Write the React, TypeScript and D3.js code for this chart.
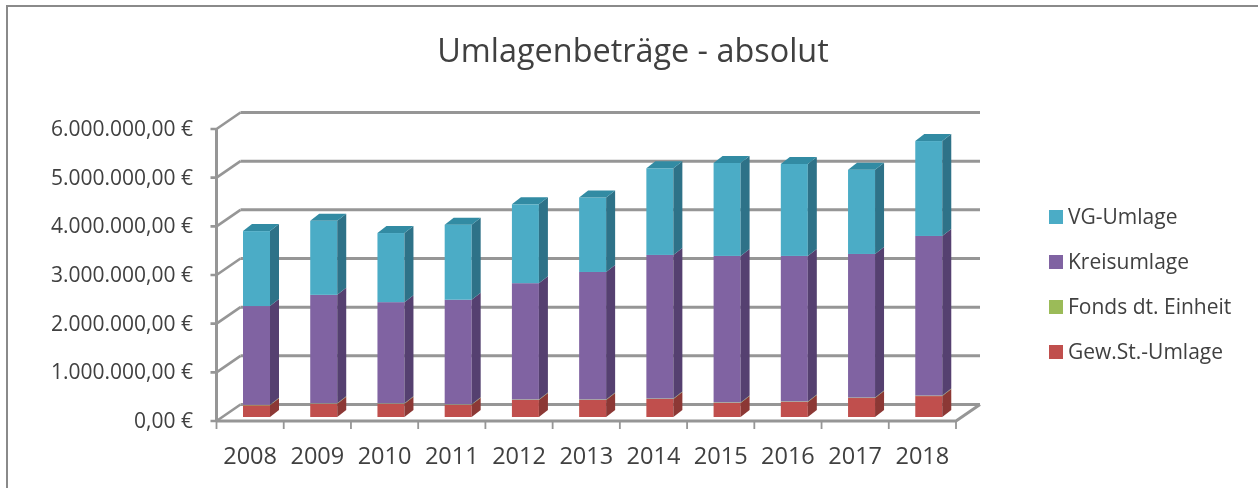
import React from "react";
import * as d3 from "d3";

const years = ["2008","2009","2010","2011","2012","2013","2014","2015","2016","2017","2018"];
const gewSt = [240000,270000,270000,250000,350000,350000,370000,290000,310000,390000,430000];
const fonds = [10000,10000,10000,10000,10000,10000,10000,10000,10000,10000,10000];
const kreis = [2030000,2230000,2080000,2150000,2390000,2620000,2950000,3010000,2990000,2950000,3280000];
const vg = [1540000,1520000,1420000,1540000,1620000,1530000,1780000,1910000,1890000,1730000,1950000];
const yTicks = [0,1000000,2000000,3000000,4000000,5000000,6000000];
const yLabels = ["0,00 €","1.000.000,00 €","2.000.000,00 €","3.000.000,00 €","4.000.000,00 €","5.000.000,00 €","6.000.000,00 €"];
const seriesNames = ["Gew.St.-Umlage","Fonds dt. Einheit","Kreisumlage","VG-Umlage"];
const seriesKeys = ["gew","fonds","kreis","vg"];
const front = ["#C0504D","#9BBB59","#8064A2","#4BACC6"];
const side = ["#8C3734","#71893F","#54406F","#2F7288"];
const topFace = ["#A03F3C","#7F9A48","#654E85","#318BA3"];
const FONT = "'Open Sans', sans-serif";
const TXT = "#404040";
const GRID = "#969696";

export default function App() {
  const y = d3.scaleLinear().domain([0, 6000000]).range([421, 129]);
  const x = d3.scaleBand().domain(years).range([216.5, 956]).paddingInner(0).paddingOuter(0);
  const dx = 24, dy = -16.5;
  const barW = 27, depX = 9, depY = -7, baseOff = -4;
  const rows = years.map((yr, i) => ({ yr, gew: gewSt[i], fonds: fonds[i], kreis: kreis[i], vg: vg[i] }));
  const stack = d3.stack().keys(seriesKeys)(rows as any);
  const area = d3.line().x((d: any) => d[0]).y((d: any) => d[1]);
  const poly = (pts: number[][]) => area(pts as any) + "Z";
  const legendY = d3.scalePoint().domain(["VG-Umlage","Kreisumlage","Fonds dt. Einheit","Gew.St.-Umlage"]).range([217, 352]);

  return (
    <svg width={1258} height={488} style={{ position: "absolute", left: 0, top: 0, background: "#fff" }} fontFamily={FONT}>
      <defs>
        <filter id="soft" x="-2%" y="-2%" width="104%" height="104%">
          <feGaussianBlur stdDeviation="0.45" />
        </filter>
      </defs>
      <g filter="url(#soft)">
        <path d="M7,488V6H1258" fill="none" stroke="#8a8a8a" strokeWidth={2} />
        <text x={633} y={62} textAnchor="middle" fontSize={32.4} fill={TXT}>Umlagenbeträge - absolut</text>

        {yTicks.map((t, i) => (
          <g key={t}>
            <path d={`M${x.range()[0] + dx},${y(t) + dy}H${x.range()[1] + dx}`} stroke={GRID} strokeWidth={3} fill="none" />
            <path d={`M${x.range()[0] - 6},${y(t)}H${x.range()[0]}L${x.range()[0] + dx},${y(t) + dy}`} stroke={GRID} strokeWidth={2.6} fill="none" />
            <text x={193} y={y(t) + 7} textAnchor="end" fontSize={21} fill={TXT}>{yLabels[i]}</text>
          </g>
        ))}
        <path d={`M${x.range()[0]},${y(6000000)}V${y(0)}`} stroke={GRID} strokeWidth={3} fill="none" />
        <path d={`M${x.range()[0]},${y(0)}H${x.range()[1]}L${x.range()[1] + dx},${y(0) + dy}`} stroke={GRID} strokeWidth={3} fill="none" />
        {[...years, "end"].map((yr, i) => {
          const px = x.range()[0] + i * x.step();
          return <path key={yr} d={`M${px},${y(0)}v8`} stroke={GRID} strokeWidth={1.8} fill="none" />;
        })}
        {years.map((yr) => (
          <text key={yr} x={(x(yr) as number) + x.bandwidth() / 2} y={464} textAnchor="middle" fontSize={23.5} fill={TXT}>{yr}</text>
        ))}

        {years.map((yr, i) => {
          const left = (x(yr) as number) + 26.5;
          const yb = (v: number) => y(v) + baseOff;
          const total = stack[3][i][1];
          return (
            <g key={yr}>
              {stack.map((s: any, k: number) => {
                const [v0, v1] = s[i];
                return (
                  <g key={seriesKeys[k]}>
                    <rect x={left} y={yb(v1)} width={barW} height={yb(v0) - yb(v1)} fill={front[k]} />
                    <path d={poly([[left + barW, yb(v0)], [left + barW + depX, yb(v0) + depY], [left + barW + depX, yb(v1) + depY], [left + barW, yb(v1)]])} fill={side[k]} />
                  </g>
                );
              })}
              <path d={poly([[left, yb(total)], [left + depX, yb(total) + depY], [left + barW + depX, yb(total) + depY], [left + barW, yb(total)]])} fill={topFace[3]} />
            </g>
          );
        })}

        {seriesNames.map((name, k) => {
          const ly = legendY(name) as number;
          return (
            <g key={name}>
              <rect x={1049} y={ly - 7} width={14} height={14} fill={front[k]} />
              <text x={1068} y={ly + 7} fontSize={21} fill={TXT}>{name}</text>
            </g>
          );
        })}
      </g>
    </svg>
  );
}
